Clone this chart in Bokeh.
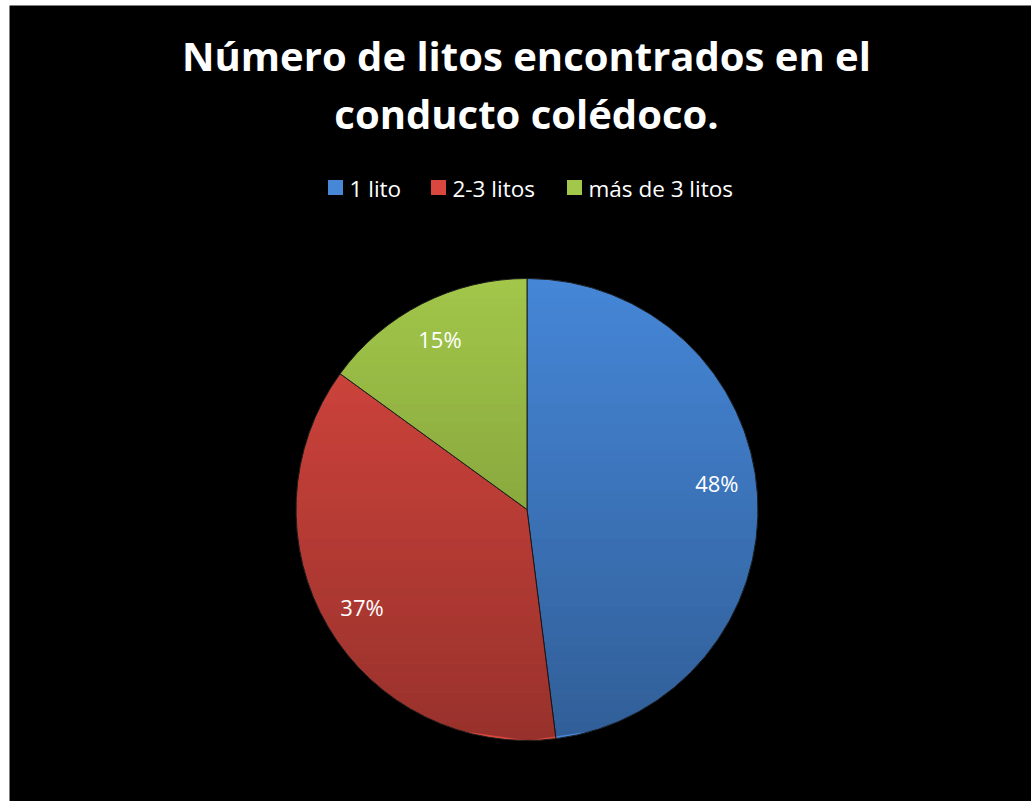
import math
from bokeh.plotting import figure
from bokeh.models import Range1d, ColumnDataSource
from bokeh.core.properties import value
from bokeh.embed import file_html
from bokeh.resources import INLINE

# ---- data ----
categories = ["1 lito", "2-3 litos", "más de 3 litos"]
shares = [48, 37, 15]
labels = ["48%", "37%", "15%"]
colors = ["#4687d8", "#d9473f", "#a2c74a"]
title_lines = ["Número de litos encontrados en el", "conducto colédoco."]

W, H = 1031, 801
OX, OY = 9, 5  # white margin at left/top
p = figure(width=W, height=H, output_backend="svg", toolbar_location=None,
           x_range=Range1d(OX, W), y_range=Range1d(0, H - OY),
           min_border_left=OX, min_border_top=OY, min_border_right=0, min_border_bottom=0,
           background_fill_color="black", border_fill_color="white",
           outline_line_color=None)
p.axis.visible = False
p.grid.visible = False

def Y(py):
    return H - py

cx, cy, r = 526.5, Y(509), 231
total = sum(shares)
starts, ends, mids = [], [], []
a = math.pi / 2
for s in shares:
    span = 2 * math.pi * s / total
    starts.append(a)
    ends.append(a - span)
    mids.append(a - span / 2)
    a -= span

src = ColumnDataSource(dict(cat=categories, start=starts, end=ends, color=colors,
                            x=[cx] * 3, y=[cy] * 3))
p.wedge(x="x", y="y", radius=r, radius_units="screen", start_angle="start", end_angle="end",
        direction="clock", fill_color="color", line_color="#1e1e1e", line_width=1, source=src)

# vertical shading overlay (decorative): darker towards the bottom
N = 48
xs, ys, alphas = [], [], []
for i in range(N):
    y1 = cy + r - 2 * r * i / N
    y2 = cy + r - 2 * r * (i + 1) / N
    pts_l, pts_r = [], []
    for yy in (y1, y2):
        h = max(r * r - (yy - cy) ** 2, 0.0) ** 0.5
        pts_l.append(cx - h)
        pts_r.append(cx + h)
    xs.append([pts_l[0], pts_r[0], pts_r[1], pts_l[1]])
    ys.append([y1, y1, y2, y2])
    alphas.append(0.30 * (i + 0.5) / N)
p.patches(xs=xs, ys=ys, fill_color="black", fill_alpha=alphas, line_color=None)

# percentage labels
lshift = [math.radians(4.4), 0.0, 0.0]
lr = 0.83 * r
p.text(x=[cx + lr * math.cos(m + d) for m, d in zip(mids, lshift)],
       y=[cy + lr * math.sin(m + d) for m, d in zip(mids, lshift)],
       text=labels, text_color="white", text_font=value("Open Sans"), text_font_size="22px",
       text_align="center", text_baseline="middle")

# title
p.text(x=[526, 526], y=[Y(55), Y(113)], text=title_lines, text_color="white",
       text_font=value("Open Sans"), text_font_style="bold", text_font_size="40px",
       text_align="center", text_baseline="alphabetic")

# legend
sq_x = [335, 438, 574]
tx = [349, 452, 588]
p.rect(x=sq_x, y=[Y(187)] * 3, width=15, height=15, width_units="screen", height_units="screen",
       fill_color=colors, line_color=None)
p.text(x=tx, y=[Y(187.5)] * 3, text=categories, text_color="white", text_font=value("Open Sans"),
       text_font_size="22.5px", text_align="left", text_baseline="middle")

open("out.html", "w").write(file_html(p, INLINE))
